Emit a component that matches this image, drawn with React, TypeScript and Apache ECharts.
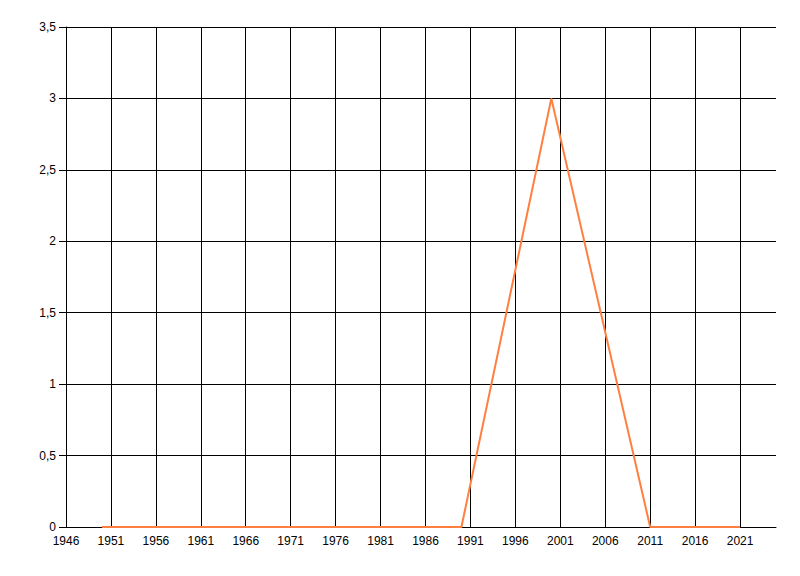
import React, { useEffect, useRef } from "react";
import * as echarts from "echarts";

const years = [1950, 1970, 1990, 2000, 2011, 2015, 2021];
const values = [0, 0, 0, 3, 0, 0, 0];
const xMin = 1946;
const xMax = 2025;
const xStep = 5;
const yMin = 0;
const yMax = 3.5;
const yStep = 0.5;

export default function App() {
  const ref = useRef<HTMLDivElement>(null);
  useEffect(() => {
    if (!ref.current) return;
    const chart = echarts.init(ref.current, null, { renderer: "svg" });
    const font = { fontFamily: "Liberation Sans", fontSize: 12, color: "#000" };
    chart.setOption({
      animation: false,
      backgroundColor: "#fff",
      grid: { left: 66, right: 24, top: 27, bottom: 49, containLabel: false },
      xAxis: {
        type: "value",
        min: xMin,
        max: xMax,
        interval: xStep,
        axisLine: { show: true, onZero: false, lineStyle: { color: "#000", width: 1 } },
        axisTick: { show: false },
        axisLabel: { ...font, margin: 8, showMaxLabel: false, formatter: (v: number) => String(v) },
        splitLine: { show: true, showMaxLine: false, lineStyle: { color: "#000", width: 1 } },
      },
      yAxis: {
        type: "value",
        min: yMin,
        max: yMax,
        interval: yStep,
        axisLine: { show: true, lineStyle: { color: "#000", width: 1 } },
        axisTick: { show: true, length: 7, lineStyle: { color: "#000" } },
        axisLabel: {
          ...font,
          margin: 10,
          formatter: (v: number) => String(v).replace(".", ","),
        },
        splitLine: { show: true, lineStyle: { color: "#000", width: 1 } },
      },
      series: [
        {
          type: "line",
          data: years.map((y, i) => [y, values[i]]),
          showSymbol: false,
          lineStyle: { color: "#ff7f40", width: 2 },
          itemStyle: { color: "#ff7f40" },
        },
      ],
    });
    return () => chart.dispose();
  }, []);
  return <div ref={ref} style={{ width: 800, height: 576, position: "absolute", left: 0, top: 0 }} />;
}
